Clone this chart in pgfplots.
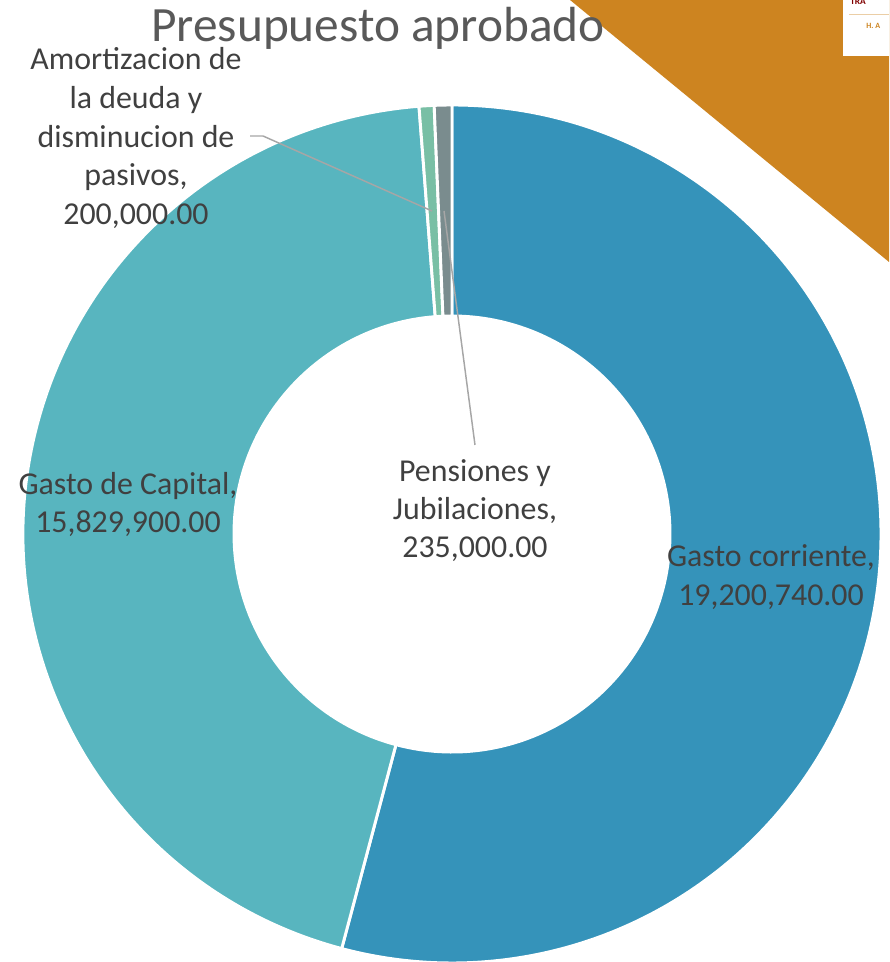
\documentclass[border=0pt]{standalone}
\usepackage{pgfplots}
\pgfplotsset{compat=1.18}
\usepackage{pgfplotstable}
\usepackage{fontspec}
\setmainfont{Carlito}

\definecolor{corriente}{HTML}{3593BA}
\definecolor{capital}{HTML}{58B5BF}
\definecolor{amort}{HTML}{79BFA5}
\definecolor{pension}{HTML}{7A8C8E}
\definecolor{orangeband}{HTML}{CD8420}
\definecolor{txt}{HTML}{404040}
\definecolor{ttl}{HTML}{595959}
\definecolor{leader}{HTML}{A6A6A6}

% presupuesto aprobado, in clockwise order from the top
\pgfplotstableread{
label value
corriente 19200740
capital 15829900
amort 200000
pensiones 235000
}\budget

\pgfplotstablegetelem{0}{value}\of\budget\edef\vA{\pgfplotsretval}
\pgfplotstablegetelem{1}{value}\of\budget\edef\vB{\pgfplotsretval}
\pgfplotstablegetelem{2}{value}\of\budget\edef\vC{\pgfplotsretval}
\pgfplotstablegetelem{3}{value}\of\budget\edef\vD{\pgfplotsretval}
\edef\tot{\fpeval{\vA+\vB+\vC+\vD}}
\edef\aA{90}
\edef\aB{\fpeval{round(\aA-360*\vA/\tot,4)}}
\edef\aC{\fpeval{round(\aB-360*\vB/\tot,4)}}
\edef\aD{\fpeval{round(\aC-360*\vC/\tot,4)}}
\edef\aE{\fpeval{round(\aD-360*\vD/\tot,4)}}

% ring sector: colour, start angle, end angle (centre 452,428; radii 429 / 218 px)
\newcommand\ring[3]{%
  \filldraw[fill=#1,draw=white,line width=2.2pt]
    (axis cs:{452+429*cos(#2)},{428+429*sin(#2)})
    arc[start angle=#2,end angle=#3,radius=321.75pt]
    -- (axis cs:{452+218*cos(#3)},{428+218*sin(#3)})
    arc[start angle=#3,end angle=#2,radius=163.5pt] -- cycle;}

\newcommand\lbl[3]{\node[anchor=base,text=txt,font=\fontsize{23.9}{28}\selectfont,inner sep=0pt] at (axis cs:#1,#2) {#3};}

\begin{document}
\begin{tikzpicture}
\begin{axis}[
    x=0.75pt, y=0.75pt,
    xmin=0, xmax=889, ymin=0, ymax=962,
    hide axis,
    clip=true,
]
\path (axis cs:0,0) rectangle (axis cs:889,962);
% decoration in the corner
\fill[orangeband] (axis cs:570,962) -- (axis cs:889,962) -- (axis cs:889,700) -- cycle;
\fill[white] (axis cs:843,962) rectangle (axis cs:889,906);
\node[anchor=base west,text=red!50!black,font=\fontsize{7}{8}\selectfont\bfseries,inner sep=0pt] at (axis cs:850,957) {TRA};
\draw[orangeband!40,line width=0.5pt] (axis cs:849,948) -- (axis cs:889,948);
\node[anchor=base west,text=orangeband,font=\fontsize{6}{7}\selectfont\bfseries,inner sep=0pt] at (axis cs:866,933) {H. A};

\ring{corriente}{\aA}{\aB}
\ring{capital}{\aB}{\aC}
\ring{amort}{\aC}{\aD}
\ring{pension}{\aD}{\aE}

% leader lines
\draw[leader,line width=1.1pt] (axis cs:250,826) -- (axis cs:263,826) -- (axis cs:432,751);
\draw[leader,line width=1.1pt] (axis cs:444,751) -- (axis cs:475,517);

\node[anchor=base,text=ttl,font=\fontsize{37}{44}\selectfont,inner sep=0pt] at (axis cs:378,920) {Presupuesto aprobado};

\lbl{136}{892}{Amortizacion de}
\lbl{136}{853}{la deuda y}
\lbl{136}{814}{disminucion de}
\lbl{136}{776}{pasivos,}
\lbl{136}{737}{200,000.00}

\lbl{128}{467}{Gasto de Capital,}
\lbl{128}{429}{15,829,900.00}

\lbl{475}{480}{Pensiones y}
\lbl{475}{442}{Jubilaciones,}
\lbl{475}{404}{235,000.00}

\lbl{771}{395}{Gasto corriente,}
\lbl{771}{356}{19,200,740.00}
\end{axis}
\end{tikzpicture}
\end{document}
